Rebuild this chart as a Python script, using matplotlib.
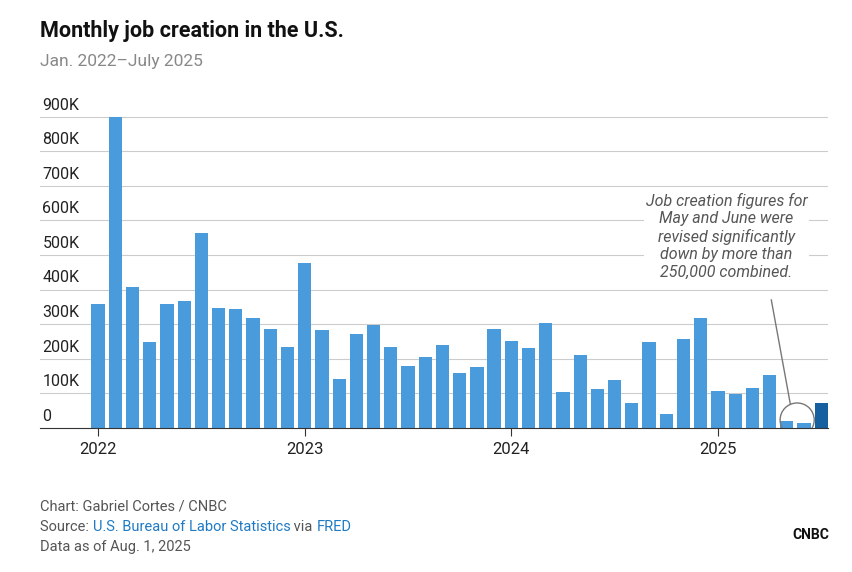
import matplotlib
matplotlib.use("Agg")
import matplotlib.pyplot as plt
from matplotlib.patches import Ellipse
import numpy as np

months = [f"{y}-{m:02d}" for y in range(2022, 2026) for m in range(1, 13)][:43]
jobs_k = [359, 900, 408, 249, 359, 367, 564, 347, 344, 318, 286, 234,
          477, 284, 142, 272, 298, 234, 179, 205, 240, 159, 176, 286,
          252, 231, 304, 104, 211, 113, 139, 72, 249, 41, 257, 318,
          107, 98, 116, 153, 19, 14, 73]
ytick_vals = [0, 100, 200, 300, 400, 500, 600, 700, 800, 900]
ytick_labels = ["0", "100K", "200K", "300K", "400K", "500K", "600K", "700K", "800K", "900K"]
year_labels = ["2022", "2023", "2024", "2025"]

plt.rcParams["font.family"] = "Roboto"
fig = plt.figure(figsize=(8.52, 5.72), dpi=100)
ax = fig.add_axes([0.047, 0.252, 0.925, 0.574])
x = np.arange(len(jobs_k))
colors = ["#4a9bdb"] * (len(jobs_k) - 1) + ["#16609f"]
ax.bar(x, jobs_k, width=0.77, color=colors, zorder=2)
ax.set_xlim(-3.37, 42.4)
ax.set_ylim(0, 950)
for v, l in zip(ytick_vals, ytick_labels):
    if v > 0:
        ax.axhline(v, color="#cccccc", lw=0.8, zorder=1)
    ax.text(0.003, v + 12, l, transform=ax.get_yaxis_transform(), fontsize=11.5, color="#222222", va="bottom", ha="left")
for s in ["top", "right", "left"]:
    ax.spines[s].set_visible(False)
ax.spines["bottom"].set_color("#333333")
ax.set_yticks([])
ax.set_xticks([0, 12, 24, 36])
ax.set_xticklabels(year_labels, fontsize=12, color="#222222")
ax.tick_params(axis="x", length=6, color="#333333", pad=4)

ax.add_patch(Ellipse((40.6, 23), 1.98, 98, fill=False, ec="#777777", lw=1, zorder=3))
ax.plot([39.1, 40.2], [370, 70], color="#777777", lw=1, zorder=3)
ax.text(36.5, 680, "Job creation figures for\nMay and June were\nrevised significantly\ndown by more than\n250,000 combined.",
        ha="center", va="top", fontsize=11.5, style="italic", color="#555555", linespacing=1.2,
        bbox=dict(fc="white", ec="none", pad=1), zorder=4)

fig.text(0.047, 0.935, "Monthly job creation in the U.S.", fontsize=15.5, fontweight="bold", color="#111111")
fig.text(0.047, 0.885, "Jan. 2022\u2013July 2025", fontsize=12.5, color="#888888")
fig.text(0.047, 0.108, "Chart: Gabriel Cortes / CNBC", fontsize=10.5, color="#555555")
src_parts = [("Source: ", "#555555"), ("U.S. Bureau of Labor Statistics", "#1f7ac4"), (" via ", "#555555"), ("FRED", "#1f7ac4")]
fig.canvas.draw()
r = fig.canvas.get_renderer()
xp = 0.047
for s, c in src_parts:
    t = fig.text(xp, 0.072, s, fontsize=10.5, color=c)
    xp += t.get_window_extent(r).width / fig.bbox.width
fig.text(0.047, 0.036, "Data as of Aug. 1, 2025", fontsize=10.5, color="#555555")
fig.text(0.952, 0.058, "CNBC", fontsize=10, fontweight="bold", color="#111111", ha="center")
fig.savefig("out.png", dpi=100)
